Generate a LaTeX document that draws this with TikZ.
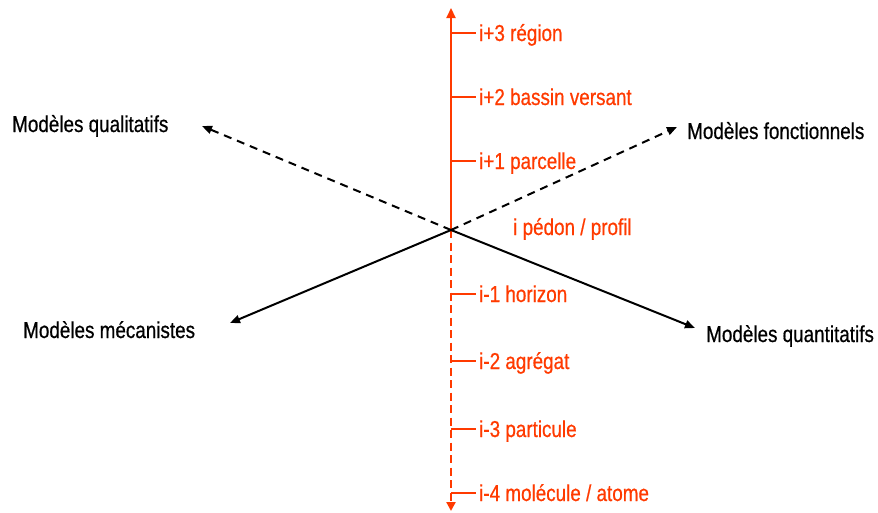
\documentclass[tikz,border=0pt]{standalone}
\usepackage{fontspec}
\setmainfont{Liberation Sans}[FakeStretch=0.82,FakeBold=0.6]
\usetikzlibrary{arrows.meta}
\definecolor{scale}{RGB}{255,58,0}
\begin{document}
\begin{tikzpicture}[x=1pt,y=-1pt,
  lbl/.style={anchor=base west,inner sep=0pt,font=\fontsize{23}{26}\selectfont},
  rlbl/.style={lbl,text=scale},
  axis/.style={draw=scale,line width=2.2pt},
  tick/.style={draw=scale,line width=2pt},
  modarrow/.style={draw=black,line width=2pt,-{Triangle[length=10pt,width=8pt]}},
  dsh/.style={dash pattern=on 8pt off 6pt}]
\useasboundingbox (0,0) rectangle (878,512);
\coordinate (O) at (451,230);
\coordinate (top) at (451,8);
\coordinate (bot) at (451,511);
\coordinate (qual) at (202,126);
\coordinate (fonc) at (677,127);
\coordinate (meca) at (230,323);
\coordinate (quan) at (695,328);
% vertical scale axis
\draw[axis,-{Triangle[length=10pt,width=9pt]}] (O) -- (top);
\draw[axis,dash pattern=on 8pt off 4.5pt,-{Triangle[length=9pt,width=9pt]}] (O) -- (bot);
% model axes
\draw[modarrow,dsh] (O) -- (qual);
\draw[modarrow,dsh] (O) -- (fonc);
\draw[modarrow] (O) -- (meca);
\draw[modarrow] (O) -- (quan);
% ticks
\foreach \n/\y in {t3/33,t2/97,t1/161,b1/294,b2/361,b3/429,b4/493}{
  \coordinate (\n a) at (451,\y);
  \coordinate (\n b) at (476,\y);
  \draw[tick] (\n a) -- (\n b);
}
% scale labels
\node[rlbl] (l3) at (479,41) {i+3 région};
\node[rlbl] (l2) at (479,105) {i+2 bassin versant};
\node[rlbl] (l1) at (479,169) {i+1 parcelle};
\node[rlbl] (l0) at (513,235) {i pédon / profil};
\node[rlbl] (m1) at (479,302) {i-1 horizon};
\node[rlbl] (m2) at (479,369) {i-2 agrégat};
\node[rlbl] (m3) at (479,437) {i-3 particule};
\node[rlbl] (m4) at (479,501) {i-4 molécule / atome};
% model labels
\node[lbl] (nqual) at (12,132) {Modèles qualitatifs};
\node[lbl] (nfonc) at (687,139) {Modèles fonctionnels};
\node[lbl] (nmeca) at (23,338) {Modèles mécanistes};
\node[lbl] (nquan) at (706,342) {Modèles quantitatifs};
\end{tikzpicture}
\end{document}
